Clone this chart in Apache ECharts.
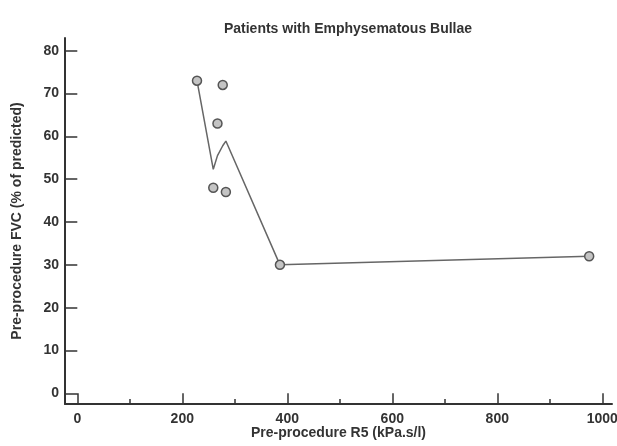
<!DOCTYPE html>
<html>
<head>
<meta charset="UTF-8">
<title>Patients with Emphysematous Bullae</title>
<script src="https://cdn.jsdelivr.net/npm/echarts@6/dist/echarts.min.js"></script>
<style>
  html, body { margin: 0; padding: 0; background: #fff; }
  #main { width: 617px; height: 446px; }
</style>
</head>
<body>
<div id="main"></div>
<script>
// measured points: pre-procedure R5 vs FVC
var r5 = [228, 277, 267, 259, 283, 386, 975];
var fvc = [73, 72, 63, 48, 47, 30, 32];

// smoothed (loess-like) fit line
var fitR5 = [228, 259, 267, 277, 283, 386, 975];
var fitFvc = [73, 52.3, 55.5, 57.8, 58.9, 30, 32];

// axis ranges
var xRange = [0, 1000], xStep = 200, xMinorStep = 100;
var yRange = [0, 80], yStep = 10;

var font = '"Liberation Sans", Arial, sans-serif';
var ink = '#333';

var chart = echarts.init(document.getElementById('main'), null, { renderer: 'canvas' });

var points = r5.map(function (x, i) { return [x, fvc[i]]; });
var fit = fitR5.map(function (x, i) { return [x, fitFvc[i]]; });

var bare = {
  axisLine: { show: false }, axisTick: { show: false },
  axisLabel: { show: false }, splitLine: { show: false }
};

chart.setOption({
  animation: false,
  backgroundColor: '#fff',
  title: {
    text: 'Patients with Emphysematous Bullae',
    left: 343,
    top: 17,
    textAlign: 'center',
    textStyle: { fontSize: 14, fontWeight: 'bold', fontFamily: font, color: ink }
  },
  grid: [
    // data area
    { left: 77.3, right: 14.7, top: 50.7, bottom: 52.7, outerBoundsMode: 'none', containLabel: false },
    // outer frame for the detached axis lines
    { left: 65, right: 5, top: 38, bottom: 42, outerBoundsMode: 'none', containLabel: false },
    // short ticks sitting on the bottom frame line
    { left: 77.3, right: 14.7, top: 50.7, bottom: 42, outerBoundsMode: 'none', containLabel: false }
  ],
  xAxis: [{
    type: 'value', gridIndex: 0,
    min: xRange[0], max: xRange[1], interval: xStep,
    offset: 10.7,
    axisLine: { show: false },
    axisTick: { show: true, inside: false, length: 10.7, lineStyle: { color: ink, width: 1.5 } },
    axisLabel: {
      margin: 8, fontSize: 14, fontWeight: 'bold', fontFamily: font, color: ink,
      formatter: function (v) { return String(v); }
    },
    splitLine: { show: false }
  }, {
    type: 'value', gridIndex: 1, min: 0, max: 1,
    axisLine: { show: true, lineStyle: { color: ink, width: 2 } },
    axisTick: { show: false }, axisLabel: { show: false }, splitLine: { show: false },
    name: 'Pre-procedure R5 (kPa.s/l)',
    nameLocation: 'middle', nameGap: 22,
    nameTextStyle: { fontSize: 14, fontWeight: 'bold', fontFamily: font, color: ink }
  }, {
    type: 'value', gridIndex: 2,
    min: xRange[0], max: xRange[1], interval: xMinorStep,
    axisLine: { show: false },
    axisTick: { show: true, inside: true, length: 5, lineStyle: { color: ink, width: 1.5 } },
    axisLabel: { show: false }, splitLine: { show: false }
  }],
  yAxis: [{
    type: 'value', gridIndex: 0,
    min: yRange[0], max: yRange[1], interval: yStep,
    offset: 12.3,
    axisLine: { show: false },
    axisTick: { show: true, inside: false, length: 12.3, lineStyle: { color: ink, width: 1.5 } },
    axisLabel: { margin: 6, fontSize: 14, fontWeight: 'bold', fontFamily: font, color: ink },
    splitLine: { show: false }
  }, {
    type: 'value', gridIndex: 1, min: 0, max: 1,
    axisLine: { show: true, lineStyle: { color: ink, width: 2 } },
    axisTick: { show: false }, axisLabel: { show: false }, splitLine: { show: false },
    name: 'Pre-procedure FVC (% of predicted)',
    nameLocation: 'middle', nameGap: 41,
    nameTextStyle: { fontSize: 14, fontWeight: 'bold', fontFamily: font, color: ink }
  }, Object.assign({ type: 'value', gridIndex: 2, min: yRange[0], max: yRange[1] }, bare)],
  series: [{
    type: 'line',
    xAxisIndex: 0, yAxisIndex: 0,
    data: fit,
    showSymbol: false,
    smooth: false,
    lineStyle: { color: '#666', width: 1.5 },
    z: 2
  }, {
    type: 'scatter',
    xAxisIndex: 0, yAxisIndex: 0,
    data: points,
    symbol: 'circle',
    symbolSize: 9,
    itemStyle: { color: '#c4c4c4', borderColor: '#555', borderWidth: 1.5, opacity: 1 },
    z: 3
  }]
});
</script>
</body>
</html>
